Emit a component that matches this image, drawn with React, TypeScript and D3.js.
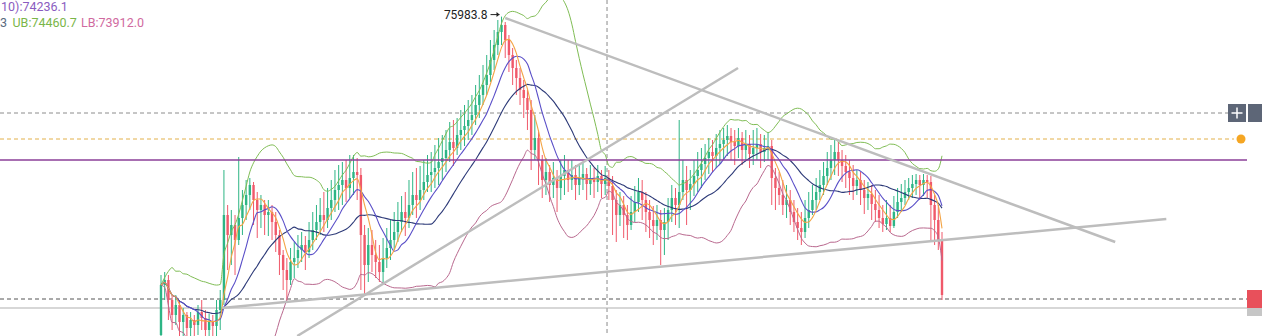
import React from "react";
import * as d3 from "d3";

const opens = [
  72800, 73300, 73350, 73150, 73000, 73100, 72930, 73000, 72870, 72950,
  72900, 73030, 72970, 72850, 72930, 72890, 73050, 73150, 74000, 73800,
  73900, 73750, 73970, 74100, 74200, 74300, 74150, 74050, 74100, 74000,
  74030, 73930, 73800, 73600, 73450, 73350, 73530, 73570, 73650, 73700,
  73630, 73750, 73850, 73930, 74000, 73950, 74070, 74150, 74250, 74300,
  74350, 74270, 74370, 74430, 74400, 73800, 73500, 73700, 73600, 73530,
  73430, 73570, 73670, 73750, 73830, 73930, 74030, 73970, 74100, 74200,
  74150, 74250, 74330, 74400, 74430, 74470, 74530, 74570, 74650, 74730,
  74670, 74800, 74850, 74890, 74950, 75000, 75100, 75200, 75300, 75400,
  75550, 75700, 75830, 75900, 75750, 75600, 75470, 75370, 75250, 75170,
  75050, 74650, 74770, 74550, 74350, 74430, 74300, 74370, 74270, 74390,
  74450, 74350, 74400, 74300, 74370, 74410, 74310, 74370, 74330, 74390,
  74310, 74370, 74290, 74150, 74000, 74100, 74000, 73900, 74030, 74130,
  74230, 74150, 74030, 73950, 73890, 73950, 73850, 73930, 74050, 74170,
  74100, 74230, 74350, 74250, 74310, 74390, 74450, 74510, 74570, 74630,
  74590, 74670, 74710, 74750, 74790, 74730, 74690, 74770, 74650, 74710,
  74610, 74670, 74710, 74630, 74670, 74690, 74370, 74270, 74200, 74100,
  74150, 74030, 73930, 73870, 73830, 73970, 74050, 74150, 74230, 74300,
  74390, 74470, 74550, 74630, 74550, 74490, 74430, 74370, 74290, 74350,
  74250, 74170, 74210, 74110, 74050, 73970, 73910, 73970, 73890, 74030,
  74130, 74170, 74230, 74270, 74310, 74350, 74300, 74350, 74330, 74100,
  73950, 73750,
];
const closes = [
  73300, 73350, 73150, 73000, 73100, 72930, 73000, 72870, 72950, 72900,
  73030, 72970, 72850, 72930, 72890, 73050, 73150, 74000, 73800, 73900,
  73750, 73970, 74100, 74200, 74300, 74150, 74050, 74100, 74000, 74030,
  73930, 73800, 73600, 73450, 73350, 73530, 73570, 73650, 73700, 73630,
  73750, 73850, 73930, 74000, 73950, 74070, 74150, 74250, 74300, 74350,
  74270, 74370, 74430, 74400, 73800, 73500, 73700, 73600, 73530, 73430,
  73570, 73670, 73750, 73830, 73930, 74030, 73970, 74100, 74200, 74150,
  74250, 74330, 74400, 74430, 74470, 74530, 74570, 74650, 74730, 74670,
  74800, 74850, 74890, 74950, 75000, 75100, 75200, 75300, 75400, 75550,
  75700, 75830, 75900, 75750, 75600, 75470, 75370, 75250, 75170, 75050,
  74650, 74770, 74550, 74350, 74430, 74300, 74370, 74270, 74390, 74450,
  74350, 74400, 74300, 74370, 74410, 74310, 74370, 74330, 74390, 74310,
  74370, 74290, 74150, 74000, 74100, 74000, 73900, 74030, 74130, 74230,
  74150, 74030, 73950, 73890, 73950, 73850, 73930, 74050, 74170, 74100,
  74230, 74350, 74250, 74310, 74390, 74450, 74510, 74570, 74630, 74590,
  74670, 74710, 74750, 74790, 74730, 74690, 74770, 74650, 74710, 74610,
  74670, 74710, 74630, 74670, 74690, 74370, 74270, 74200, 74100, 74150,
  74030, 73930, 73870, 73830, 73970, 74050, 74150, 74230, 74300, 74390,
  74470, 74550, 74630, 74550, 74490, 74430, 74370, 74290, 74350, 74250,
  74170, 74210, 74110, 74050, 73970, 73910, 73970, 73890, 74030, 74130,
  74170, 74230, 74270, 74310, 74350, 74300, 74350, 74330, 74100, 73950,
  73750, 73200,
];
const highs = [
  73400, 73430, 73400, 73200, 73200, 73150, 73070, 73030, 73030, 73000,
  73100, 73150, 73050, 73010, 73000, 73150, 73250, 74450, 74100, 74050,
  74000, 74580, 74250, 74350, 74370, 74330, 74230, 74200, 74150, 74150,
  74100, 74030, 73850, 73650, 73570, 73670, 73730, 73800, 73830, 73790,
  73930, 74030, 74100, 74170, 74230, 74270, 74350, 74450, 74500, 74530,
  74550, 74600, 74600, 74570, 74470, 73900, 73870, 73850, 73750, 73700,
  73770, 73870, 73950, 74030, 74130, 74190, 74230, 74350, 74430, 74470,
  74490, 74550, 74600, 74630, 74700, 74770, 74800, 74850, 74930, 74950,
  74970, 75050, 75100, 75150, 75200, 75300, 75400, 75500, 75600, 75750,
  75850, 75950, 75984, 75930, 75800, 75670, 75550, 75470, 75350, 75250,
  75150, 75000, 74850, 74600, 74570, 74500, 74530, 74450, 74550, 74600,
  74550, 74550, 74500, 74500, 74530, 74470, 74500, 74470, 74500, 74450,
  74490, 74450, 74390, 74250, 74230, 74190, 74100, 74190, 74290, 74370,
  74350, 74230, 74150, 74090, 74100, 74050, 74070, 74170, 74300, 74270,
  74950, 74550, 74490, 74450, 74550, 74630, 74670, 74710, 74770, 74750,
  74810, 74850, 74870, 74900, 74870, 74850, 74870, 74830, 74850, 74800,
  74850, 74870, 74810, 74800, 74830, 74750, 74470, 74430, 74350, 74300,
  74250, 74150, 74070, 74030, 74150, 74230, 74300, 74370, 74450, 74530,
  74630, 74700, 74750, 74730, 74650, 74600, 74550, 74500, 74450, 74430,
  74350, 74330, 74300, 74250, 74200, 74100, 74150, 74100, 74190, 74270,
  74310, 74350, 74370, 74400, 74410, 74400, 74410, 74400, 74390, 74200,
  74100, 73830,
];
const lows = [
  72750, 73150, 72950, 72850, 72900, 72790, 72750, 72700, 72770, 72750,
  72800, 72850, 72750, 72750, 72730, 72790, 72850, 73100, 73450, 73500,
  73400, 73700, 73800, 73950, 74050, 73900, 73770, 73870, 73800, 73790,
  73750, 73630, 73400, 73250, 73120, 73300, 73370, 73470, 73530, 73450,
  73570, 73650, 73750, 73800, 73830, 73870, 73950, 74030, 74050, 74100,
  74130, 74170, 74200, 74150, 73250, 73200, 73330, 73430, 73370, 73330,
  73310, 73470, 73550, 73650, 73730, 73830, 73790, 73870, 74000, 73970,
  74050, 74150, 74230, 74230, 74270, 74300, 74350, 74430, 74530, 74490,
  74600, 74650, 74690, 74750, 74800, 74900, 74970, 75100, 75200, 75330,
  75450, 75600, 75700, 75570, 75430, 75300, 75200, 75100, 74970, 74850,
  74450, 74550, 74300, 74170, 74200, 74130, 74170, 74030, 74150, 74200,
  74230, 74250, 74150, 74200, 74250, 74150, 74200, 74170, 74230, 74170,
  74200, 74150, 73800, 73730, 73890, 73770, 73750, 73850, 73930, 74030,
  73950, 73830, 73770, 73700, 73750, 73500, 73600, 73750, 73930, 73900,
  73870, 74150, 73900, 74050, 74190, 74230, 74270, 74350, 74410, 74430,
  74470, 74510, 74550, 74590, 74550, 74500, 74570, 74500, 74550, 74470,
  74500, 74550, 74470, 74530, 74550, 74100, 74050, 74100, 74000, 73970,
  73900, 73830, 73750, 73700, 73770, 73870, 74000, 74050, 74150, 74200,
  74300, 74350, 74400, 74390, 74330, 74270, 74200, 74150, 74200, 74100,
  74010, 74050, 73950, 73930, 73870, 73830, 73850, 73830, 73870, 73970,
  74030, 74100, 74150, 74170, 74200, 74150, 74190, 74170, 73750, 73700,
  73650, 73150,
];

// horizontal price levels and drawn trend lines as [index, price, index, price]
const levelGrayDash = 75020;
const levelOrangeDash = 74760;
const levelPurple = 74550;
const levelDarkDash = 73160;
const levelGraySolid = 73070;
const crosshairIndex = 120.5;
const trendLines: [number, number, number, number][] = [
  [93.0, 75970, 257.8, 73730],
  [36.8, 72790, 155.9, 75470],
  [16.5, 73070, 271.6, 73960],
];
const highLabel = "75983.8";
const legendLine1 = "10):74236.1";
const legendMid = "3";
const legendUB = "UB:74460.7";
const legendLB = "LB:73912.0";

function movingAvg(arr: number[], n: number) {
  return arr.map((_, i) => {
    const s = arr.slice(Math.max(0, i - n + 1), i + 1);
    return d3.mean(s) as number;
  });
}
function boll(arr: number[], n: number, k: number) {
  return arr.map((_, i) => {
    const s = arr.slice(Math.max(0, i - n + 1), i + 1);
    const m = d3.mean(s) as number;
    const sd = Math.sqrt(d3.mean(s.map((v) => (v - m) * (v - m))) as number);
    return { m, u: m + k * sd, l: m - k * sd };
  });
}

export default function App() {
  const W = 1262;
  const H = 336;
  const N = closes.length;
  const x = d3.scaleLinear().domain([0, N - 1]).range([161, 942]);
  const y = d3.scaleLinear().domain([72700, 76000]).range([345, 15]);

  const ma5 = movingAvg(closes, 5);
  const ma10 = movingAvg(closes, 10);
  const bb = boll(closes, 20, 2);

  const line = d3
    .line<number>()
    .x((_, i) => x(i))
    .y((d) => y(d))
    .curve(d3.curveMonotoneX);

  const up = "#2db585";
  const down = "#f0596a";
  const bw = 2.4;

  const maxI = d3.maxIndex(highs);
  const hx = x(maxI);
  const hy = y(highs[maxI]);

  return (
    <svg
      width={W}
      height={H}
      style={{ position: "absolute", left: 0, top: 0, background: "#fff" }}
      fontFamily="Roboto, 'Noto Sans', sans-serif"
    >
      <rect x={0} y={0} width={W} height={H} fill="#fff" />
      {/* crosshair vertical */}
      <line
        x1={x(crosshairIndex)}
        x2={x(crosshairIndex)}
        y1={0}
        y2={H}
        stroke="#8a8a8a"
        strokeDasharray="4 3"
        strokeWidth={1}
      />
      {/* horizontal levels */}
      <line x1={0} x2={1228} y1={y(levelGrayDash)} y2={y(levelGrayDash)} stroke="#8c8c8c" strokeDasharray="4 3" />
      <line x1={0} x2={1234} y1={y(levelOrangeDash)} y2={y(levelOrangeDash)} stroke="#e2b04a" strokeDasharray="4 3" />
      <line x1={0} x2={1247} y1={y(levelDarkDash)} y2={y(levelDarkDash)} stroke="#555" strokeDasharray="4 3" />
      <line x1={0} x2={1247} y1={y(levelGraySolid)} y2={y(levelGraySolid)} stroke="#b0b0b0" strokeWidth={1.2} />

      {/* candles */}
      {closes.map((c, i) => {
        const o = opens[i];
        const isUp = c >= o;
        const col = isUp ? up : down;
        const top = y(Math.max(o, c));
        const bot = y(Math.min(o, c));
        return (
          <g key={i}>
            <line x1={x(i)} x2={x(i)} y1={y(highs[i])} y2={y(lows[i])} stroke={col} strokeWidth={1} />
            <rect x={x(i) - bw / 2} y={top} width={bw} height={Math.max(1, bot - top)} fill={col} />
          </g>
        );
      })}

      {/* indicators */}
      <path d={line(bb.map((d) => d.u)) || ""} fill="none" stroke="#80bd55" strokeWidth={1} />
      <path d={line(bb.map((d) => d.l)) || ""} fill="none" stroke="#b9688e" strokeWidth={1} />
      <path d={line(bb.map((d) => d.m)) || ""} fill="none" stroke="#2d3a78" strokeWidth={1.1} />
      <path d={line(ma10) || ""} fill="none" stroke="#5a4fc8" strokeWidth={1.1} />
      <path d={line(ma5) || ""} fill="none" stroke="#f3a445" strokeWidth={1.1} />

      {/* purple level */}
      <line x1={0} x2={1247} y1={y(levelPurple)} y2={y(levelPurple)} stroke="#8b3f98" strokeWidth={1.3} />

      {/* trend lines */}
      {trendLines.map((t, i) => (
        <line
          key={i}
          x1={x(t[0])}
          y1={y(t[1])}
          x2={x(t[2])}
          y2={y(t[3])}
          stroke="#bdbdbd"
          strokeWidth={2.5}
        />
      ))}

      {/* high label */}
      <text x={hx - 14} y={hy + 2} fontSize={12} fill="#222" textAnchor="end">
        {highLabel}
      </text>
      <line x1={hx - 11} x2={hx - 2} y1={hy - 2} y2={hy - 2} stroke="#222" strokeWidth={1} />
      <path d={`M${hx - 2},${hy - 2} l-3,-2.5 l0,5 z`} fill="#222" />

      {/* right side widgets */}
      <rect x={1228} y={104} width={18} height={18} fill="#5d6677" />
      <line x1={1231.5} x2={1242.5} y1={113} y2={113} stroke="#fff" strokeWidth={1.5} />
      <line x1={1237} x2={1237} y1={107.5} y2={118.5} stroke="#fff" strokeWidth={1.5} />
      <rect x={1248} y={104} width={14} height={18} fill="#5d6677" />
      <circle cx={1241} cy={y(levelOrangeDash)} r={4.5} fill="#f5a623" />
      <rect x={1247} y={290} width={15} height={18} fill="#e8505b" />
      <rect x={1247} y={308} width={15} height={8} fill="#c6c6c6" />

      {/* legend */}
      <text x={1} y={11} fontSize={12.5} fill="#8a5cc0">
        {legendLine1}
      </text>
      <text x={0} y={26.5} fontSize={12.5}>
        <tspan fill="#5a6a80">{legendMid}</tspan>
        <tspan x={12.5} fill="#7ab648">
          {legendUB}
        </tspan>
        <tspan x={81} fill="#d06aa0">
          {legendLB}
        </tspan>
      </text>
    </svg>
  );
}
